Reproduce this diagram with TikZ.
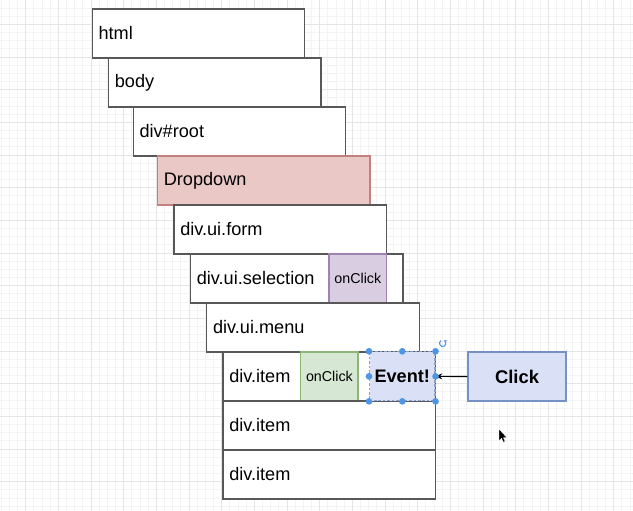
\documentclass[tikz,border=0pt]{standalone}
\usepackage{fontspec}
\setmainfont{Liberation Sans}
\usetikzlibrary{arrows.meta}

\definecolor{gridminor}{RGB}{243,243,243}
\definecolor{gridmajor}{RGB}{229,229,229}
\definecolor{boxline}{RGB}{88,88,88}
\definecolor{redfill}{RGB}{233,200,198}
\definecolor{redline}{RGB}{196,128,124}
\definecolor{purplefill}{RGB}{217,206,225}
\definecolor{purpleline}{RGB}{160,130,176}
\definecolor{greenfill}{RGB}{214,231,211}
\definecolor{greenline}{RGB}{140,182,118}
\definecolor{bluefill}{RGB}{218,225,247}
\definecolor{blueline}{RGB}{118,146,196}
\definecolor{selline}{RGB}{140,160,205}
\definecolor{handleblue}{RGB}{78,150,228}

\tikzset{
  tagbox/.style={draw=boxline, line width=1pt, fill=white, anchor=north west,
    minimum height=36.75pt, inner ysep=0pt, inner xsep=4.8pt,
    text width=149.8pt, align=left, font=\fontsize{13.6}{16}\selectfont},
  handlerbox/.style={line width=1pt, anchor=north west, minimum height=36.75pt,
    inner sep=0pt, font=\fontsize{10.7}{13}\selectfont},
  eventbox/.style={fill=bluefill, draw=selline, line width=0.8pt,
    dash pattern=on 2pt off 1.3pt, anchor=north west, minimum height=36.75pt,
    inner sep=0pt, font=\bfseries\fontsize{13.6}{16}\selectfont},
  clickbox/.style={fill=bluefill, draw=blueline, line width=1pt, anchor=north west,
    minimum height=36.75pt, inner sep=0pt, font=\bfseries\fontsize{13.8}{16}\selectfont},
  handle/.style={fill=handleblue},
  minorline/.style={draw=gridminor, line width=0.6pt},
  majorline/.style={draw=gridmajor, line width=0.7pt},
}

\begin{document}
\begin{tikzpicture}[x=0.75pt,y=-0.75pt]
\useasboundingbox (0,0) rectangle (633,511);
\fill[white] (0,0) rectangle (633,511);

% background grid
\foreach \i in {-4,...,75} \draw[minorline] ({25.7+\i*8.1667},0) -- ({25.7+\i*8.1667},511);
\foreach \i in {-3,...,60} \draw[minorline] (0,{24.3+\i*8.1667}) -- (633,{24.3+\i*8.1667});
\foreach \i in {-1,...,19} \draw[majorline] ({25.7+\i*32.667},0) -- ({25.7+\i*32.667},511);
\foreach \i in {-1,...,15} \draw[majorline] (0,{24.3+\i*32.667}) -- (633,{24.3+\i*32.667});

% element tree, one row per element
\node[tagbox] (html) at (91.5,8.3) {html};
\node[tagbox] (body) at (107.8,57.3) {body};
\node[tagbox] (root) at (132.5,106.3) {div\#root};
\node[tagbox, fill=redfill, draw=redline] (dropdown) at (156.8,155.3) {Dropdown};
\node[tagbox] (form) at (173.2,204.3) {div.ui.form};
\node[tagbox] (selection) at (189.8,253.3) {div.ui.selection};
\node[handlerbox, fill=purplefill, draw=purpleline, minimum width=43.3pt] (selclick) at (328.3,253.3) {onClick};
\node[tagbox] (menu) at (206,302.3) {div.ui.menu};
\node[tagbox] (item1) at (222.2,351.3) {div.item};
\node[handlerbox, fill=greenfill, draw=greenline, minimum width=43.1pt] (itemclick) at (300,351.3) {onClick};
\node[tagbox] (item2) at (222.2,400.3) {div.item};
\node[tagbox] (item3) at (222.2,449.3) {div.item};

% event travelling from the click
\node[eventbox, minimum width=49.1pt] (event) at (369,351.3) {Event!};
\node[clickbox, minimum width=73.6pt] (click) at (467.3,351.3) {Click};
\draw[line width=0.9pt, -{Stealth[length=5pt,width=4.5pt]}] (click.west) -- (event.east);

% selection handles
\foreach \p in {north west,north,north east,west,east,south west,south,south east}
  \fill[handle] (event.\p) circle[radius=2.5pt];
\coordinate (rot) at (442.7,343.3);
\draw[handleblue, line width=0.8pt, -{Stealth[length=1.8pt,width=2.2pt]}]
  ([shift={(120:2.4pt)}]rot) arc[start angle=120, end angle=420, radius=2.4pt];

% mouse pointer
\coordinate (tip) at (499,429);
\fill[black, draw=white, line width=0.3pt] (tip) -- ++(0,12) -- ++(2.6,-2.6) -- ++(1.8,3.9)
  -- ++(1.8,-0.8) -- ++(-1.8,-3.8) -- ++(3.6,0) -- cycle;
\end{tikzpicture}
\end{document}
